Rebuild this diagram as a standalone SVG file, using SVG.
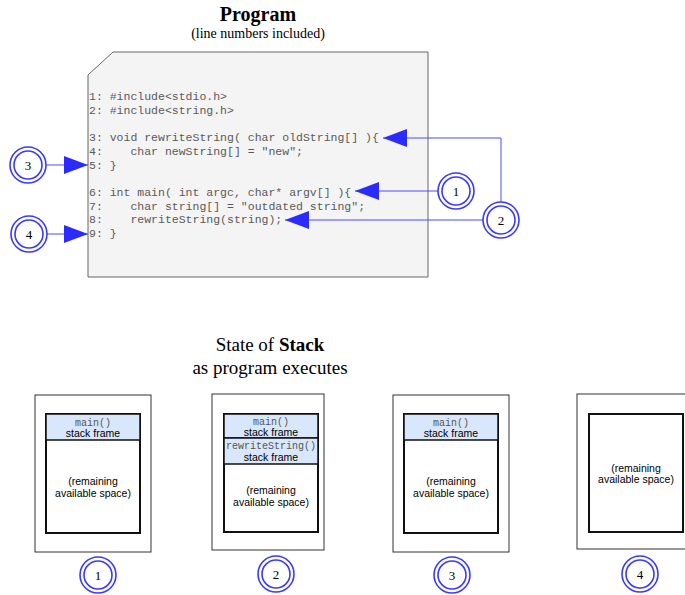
<svg xmlns="http://www.w3.org/2000/svg" width="685" height="595" viewBox="0 0 685 595">
  <style>
    .title { font-family: "Liberation Serif", serif; fill: #000; text-anchor: middle; }
    .code { font-family: "Liberation Mono", monospace; font-size: 11.5px; fill: #5a5a5a; white-space: pre; }
    .mono { font-family: "Liberation Mono", monospace; font-size: 10px; fill: #555; text-anchor: middle; }
    .sans { font-family: "Liberation Sans", Arial, sans-serif; font-size: 10.5px; fill: #000; text-anchor: middle; }
    .ring { fill: #fff; stroke: #3a3aff; stroke-width: 1.6; }
    .ring-in { fill: none; stroke: #3a3aff; stroke-width: 1.6; }
    .num { font-family: "Liberation Serif", serif; font-size: 13px; fill: #000; text-anchor: middle; }
    .conn { fill: none; stroke: #4a4aff; stroke-width: 1; }
    .outer { fill: #fff; stroke: #333; stroke-width: 1; }
    .inner { fill: #fff; stroke: #111; stroke-width: 2; }
    .frame { fill: #d8e7fb; stroke: #111; stroke-width: 1.5; }
  </style>
  <defs>
    <marker id="head" markerUnits="userSpaceOnUse" markerWidth="25" markerHeight="18" refX="24" refY="9" orient="auto">
      <path d="M0,0 L24,9 L0,18 Z" fill="#2b2bff"/>
    </marker>
    <g id="badge">
      <circle class="ring" r="18"/>
      <circle class="ring-in" r="14"/>
    </g>
  </defs>

  <rect width="685" height="595" fill="#fff"/>

  <!-- headings -->
  <text class="title" x="258" y="21" font-size="20" font-weight="bold">Program</text>
  <text class="title" x="258" y="38" font-size="14">(line numbers included)</text>
  <text class="title" x="270" y="351" font-size="19">State of <tspan font-weight="bold">Stack</tspan></text>
  <text class="title" x="270" y="374" font-size="19">as program executes</text>

  <!-- source listing -->
  <g id="program">
    <path d="M113,52 L428,52 L428,277 L88,277 L88,75 Z" fill="#f4f4f4" stroke="#666" stroke-width="1"/>
    <text class="code" x="89" y="100">1: #include&lt;stdio.h&gt;</text>
    <text class="code" x="89" y="113.7">2: #include&lt;string.h&gt;</text>
    <text class="code" x="89" y="141.1">3: void rewriteString( char oldString[] ){</text>
    <text class="code" x="89" y="154.8">4:    char newString[] = "new";</text>
    <text class="code" x="89" y="168.5">5: }</text>
    <text class="code" x="89" y="195.9">6: int main( int argc, char* argv[] ){</text>
    <text class="code" x="89" y="209.6">7:    char string[] = "outdated string";</text>
    <text class="code" x="89" y="223.3">8:    rewriteString(string);</text>
    <text class="code" x="89" y="237">9: }</text>
  </g>

  <!-- connectors -->
  <g id="connectors">
    <path class="conn" d="M46,165 L88,165" marker-end="url(#head)"/>
    <path class="conn" d="M47,234 L88,234" marker-end="url(#head)"/>
    <path class="conn" d="M438,191 L355,191" marker-end="url(#head)"/>
    <path class="conn" d="M501,202 L501,138 L383,138" marker-end="url(#head)"/>
    <path class="conn" d="M483,220 L285,220" marker-end="url(#head)"/>
  </g>

  <!-- step markers beside the listing -->
  <g id="step3-top"><use href="#badge" x="28" y="165"/><text class="num" x="28" y="169.5">3</text></g>
  <g id="step4-top"><use href="#badge" x="29" y="234"/><text class="num" x="29" y="238.5">4</text></g>
  <g id="step1-top"><use href="#badge" x="456" y="191"/><text class="num" x="456" y="195.5">1</text></g>
  <g id="step2-top"><use href="#badge" x="501" y="220"/><text class="num" x="501" y="224.5">2</text></g>

  <!-- stack state 1 -->
  <g id="stack1">
    <rect class="outer" x="35" y="395" width="116" height="157"/>
    <rect class="inner" x="46" y="414" width="94" height="119"/>
    <rect class="frame" x="46" y="414" width="94" height="26"/>
    <text class="mono" x="93" y="425.5">main()</text>
    <text class="sans" x="93" y="437">stack frame</text>
    <text class="sans" x="93" y="485">(remaining</text>
    <text class="sans" x="93" y="496.5">available space)</text>
    <use href="#badge" x="98" y="575"/>
    <text class="num" x="98" y="579.5">1</text>
  </g>

  <!-- stack state 2 -->
  <g id="stack2">
    <rect class="outer" x="212" y="394" width="112" height="156"/>
    <rect class="inner" x="224" y="414" width="94" height="118"/>
    <rect class="frame" x="224" y="414" width="94" height="24"/>
    <rect class="frame" x="224" y="438" width="94" height="26"/>
    <text class="mono" x="271" y="424.5">main()</text>
    <text class="sans" x="271" y="436">stack frame</text>
    <text class="mono" x="271" y="448.5">rewriteString()</text>
    <text class="sans" x="271" y="461">stack frame</text>
    <text class="sans" x="271" y="494">(remaining</text>
    <text class="sans" x="271" y="505.5">available space)</text>
    <use href="#badge" x="276" y="574"/>
    <text class="num" x="276" y="578.5">2</text>
  </g>

  <!-- stack state 3 -->
  <g id="stack3">
    <rect class="outer" x="393" y="395" width="116" height="157"/>
    <rect class="inner" x="404" y="414" width="94" height="119"/>
    <rect class="frame" x="404" y="414" width="94" height="26"/>
    <text class="mono" x="451" y="425.5">main()</text>
    <text class="sans" x="451" y="437">stack frame</text>
    <text class="sans" x="451" y="485">(remaining</text>
    <text class="sans" x="451" y="496.5">available space)</text>
    <use href="#badge" x="452" y="575"/>
    <text class="num" x="452" y="579.5">3</text>
  </g>

  <!-- stack state 4 -->
  <g id="stack4">
    <rect class="outer" x="577" y="394" width="112" height="155"/>
    <rect class="inner" x="589" y="414" width="94" height="118"/>
    <text class="sans" x="636" y="471.5">(remaining</text>
    <text class="sans" x="636" y="483">available space)</text>
    <use href="#badge" x="640" y="574"/>
    <text class="num" x="640" y="578.5">4</text>
  </g>
</svg>
